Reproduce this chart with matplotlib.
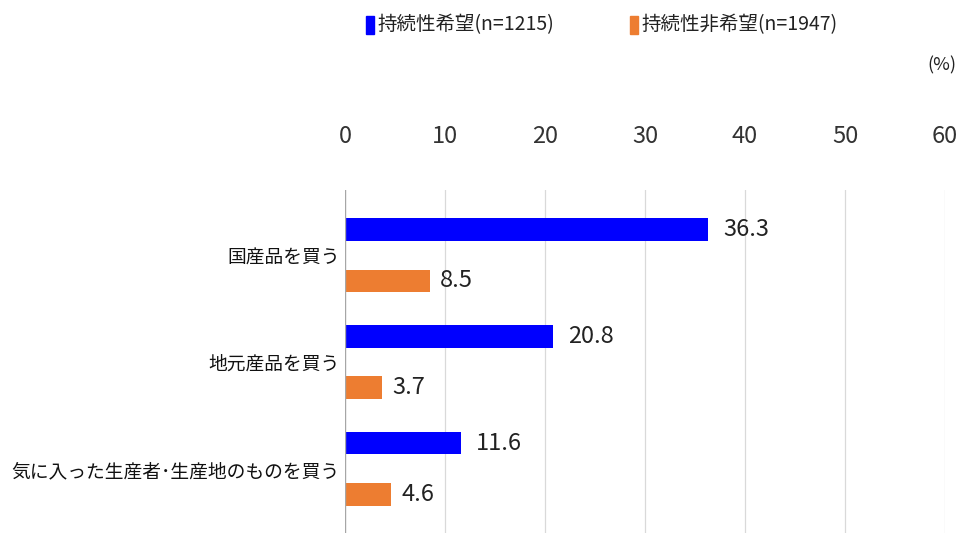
import matplotlib
matplotlib.use("Agg")
import matplotlib.pyplot as plt
import numpy as np

plt.rcParams['font.family'] = ['Noto Sans CJK JP', 'DejaVu Sans']

categories = ["国産品を買う", "地元産品を買う", "気に入った生産者･生産地のものを買う"]
series_names = ["持続性希望(n=1215)", "持続性非希望(n=1947)"]
blue_vals = [36.3, 20.8, 11.6]
orange_vals = [8.5, 3.7, 4.6]
xticks = [0, 10, 20, 30, 40, 50, 60]
colors = ["#0000ff", "#ed7d31"]

W, H = 959, 533
fig = plt.figure(figsize=(W/100, H/100), dpi=100)
ax = fig.add_axes([345/W, 0, 600/W, (533-190)/H])

y = np.arange(len(categories))
off = 0.24
h = 0.21
ax.barh(y - off, blue_vals, height=h, color=colors[0], zorder=3)
ax.barh(y + off, orange_vals, height=h, color=colors[1], zorder=3)

for yi, v in zip(y - off, blue_vals):
    ax.text(v + 1.5, yi, f"{v:.1f}", va="center", ha="left", fontsize=17, color="#222222")
for yi, v in zip(y + off, orange_vals):
    ax.text(v + 1.0, yi, f"{v:.1f}", va="center", ha="left", fontsize=17, color="#222222")

ax.set_xlim(0, 60)
ax.set_ylim(2.6, -0.61)
ax.set_xticks(xticks)
ax.xaxis.tick_top()
ax.tick_params(axis="x", length=0, pad=30, labelsize=17, labelcolor="#333333")
ax.set_yticks(y)
ax.set_yticklabels(categories, fontsize=13.5, color="#111111")
ax.tick_params(axis="y", length=0, pad=4)
for t in xticks[1:]:
    ax.axvline(t, color="#d9d9d9", lw=0.9, zorder=1)
ax.axvline(0, color="#a6a6a6", lw=1.0, zorder=4)
for s in ax.spines.values():
    s.set_visible(False)

# legend
fig.patches.append(plt.Rectangle((366/W, 1-34/H), 8/W, 18/H, color=colors[0], transform=fig.transFigure))
fig.text(377/W, 1-25/H, series_names[0], fontsize=14, va="center", ha="left", color="#222222")
fig.patches.append(plt.Rectangle((630/W, 1-34/H), 8/W, 18/H, color=colors[1], transform=fig.transFigure))
fig.text(641/W, 1-25/H, series_names[1], fontsize=14, va="center", ha="left", color="#222222")
fig.text(942/W, 1-65/H, "(%)", fontsize=13, va="center", ha="center", color="#222222")

fig.savefig("out.png", dpi=100)
